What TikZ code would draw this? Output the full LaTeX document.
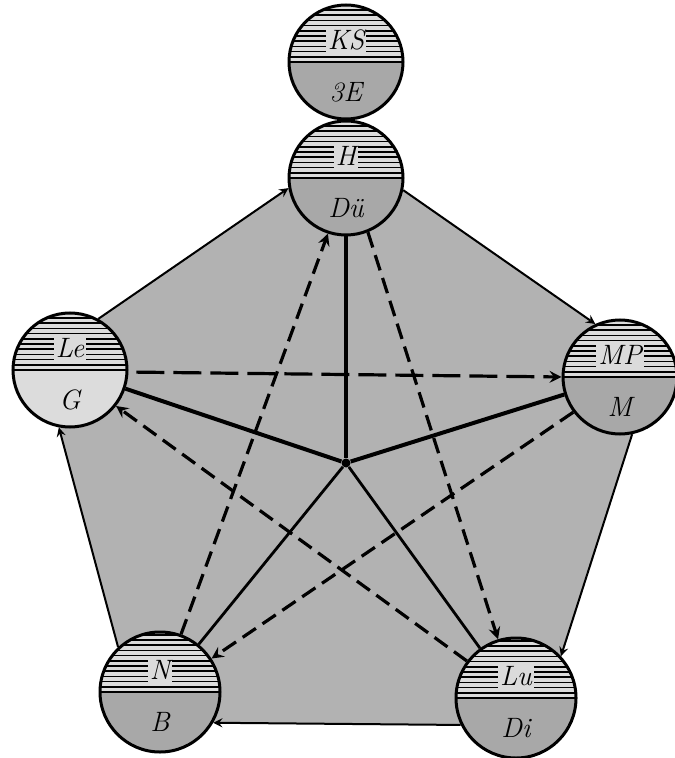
\documentclass[tikz,border=0pt]{standalone}
\usepackage{fontspec}
\usetikzlibrary{backgrounds}
\definecolor{plate}{gray}{0.70}
\definecolor{disc}{gray}{0.66}
\definecolor{paper}{gray}{0.86}
\begin{document}
\begin{tikzpicture}[
    x=0.5pt, y=-0.5pt,
    >=stealth,
    planet/.style={
        circle,
        draw=black,
        line width=1.5pt,
        minimum size=57pt,
        inner sep=0pt,
        fill=disc,
        path picture={
            \fill[paper] (path picture bounding box.west)
                rectangle (path picture bounding box.north east);
            \foreach \k in {1,...,11}
                \draw[line width=0.8pt]
                    ([yshift=\k*2.6pt]path picture bounding box.west) --
                    ([yshift=\k*2.6pt]path picture bounding box.east);
            \draw[line width=1.4pt] (path picture bounding box.west) --
                (path picture bounding box.east);
        }
    },
    toptext/.style={fill=paper, inner sep=1pt, font=\fontsize{14}{16}\selectfont\itshape},
    bottext/.style={inner sep=1pt, font=\fontsize{14}{16}\selectfont\itshape},
    hub/.style={circle, fill=black, inner sep=0pt, minimum size=4.5pt},
    rim/.style={->, line width=1pt},
    ray/.style={line width=1.4pt},
    chord/.style={->, line width=1.6pt, dash pattern=on 8pt off 4pt}
]
    \useasboundingbox (0,0) rectangle (674,758);

    \node[planet] (ks) at (346,62) {};
    \node[planet] (h) at (346,178) {};
    \node[planet, fill=disc!40] (le) at (70,370) {};
    \node[planet] (mp) at (620,377) {};
    \node[planet, minimum size=60pt] (n) at (160,692) {};
    \node[planet, minimum size=60pt] (lu) at (516,698) {};
    \node[hub] (hub) at (346,463) {};

    \node[toptext] (ks-t) at ([yshift=11pt]ks.center) {KS};
    \node[bottext] (ks-b) at ([yshift=-15pt]ks.center) {3E};
    \node[toptext] (h-t) at ([yshift=11pt]h.center) {H};
    \node[bottext] (h-b) at ([yshift=-15pt]h.center) {Dü};
    \node[toptext] (le-t) at ([yshift=11pt]le.center) {Le};
    \node[bottext] (le-b) at ([yshift=-15pt]le.center) {G};
    \node[toptext] (mp-t) at ([yshift=11pt]mp.center) {MP};
    \node[bottext] (mp-b) at ([yshift=-15pt]mp.center) {M};
    \node[toptext] (n-t) at ([yshift=11pt]n.center) {N};
    \node[bottext] (n-b) at ([yshift=-15pt]n.center) {B};
    \node[toptext] (lu-t) at ([yshift=11pt]lu.center) {Lu};
    \node[bottext] (lu-b) at ([yshift=-15pt]lu.center) {Di};

    % grey plate behind the pentagon
    \begin{scope}[on background layer]
        \fill[plate] (le.61) -- (h.190) -- (h.-12) -- (mp.115) -- (mp.-78)
            -- (lu.43) -- (lu.206) -- (n.-30) -- (n.133) -- (le.-101) -- cycle;
    \end{scope}

    \draw[rim] (le.61) -- (h.190);
    \draw[rim] (h.-12) -- (mp.115);
    \draw[rim] (mp.-78) -- (lu.43);
    \draw[rim] (lu.206) -- (n.-30);
    \draw[rim] (n.133) -- (le.-101);

    \draw[ray, line width=2pt] (hub) -- (le);
    \draw[ray, line width=2pt] (hub) -- (mp);
    \draw[ray, line width=1.8pt] (hub) -- (h);
    \draw[ray] (hub) -- (n);
    \draw[ray] (hub) -- (lu);

    \draw[chord] (n.70) -- (h.-108);
    \draw[chord] (h.-68) -- (lu.107);
    \draw[chord, dash pattern=on 14pt off 4.5pt, shorten <=4pt] (le.-2) -- (mp.180);
    \draw[chord] (lu.143) -- (le.-38);
    \draw[chord] (mp.217) -- (n.33);
\end{tikzpicture}
\end{document}
